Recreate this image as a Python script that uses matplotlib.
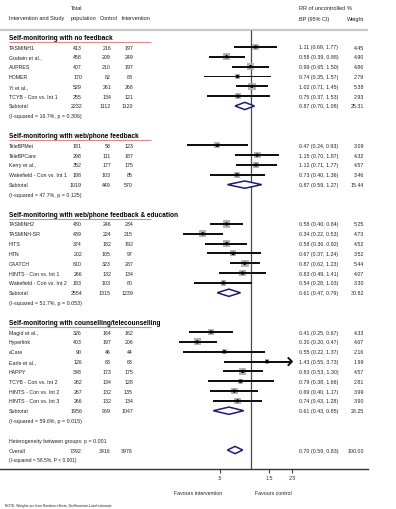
import numpy as np
import matplotlib
matplotlib.use('Agg')
import matplotlib.pyplot as plt
import matplotlib.transforms as mtrans
import matplotlib.ticker as mticker
from matplotlib.patches import Polygon
from matplotlib.path import Path

plt.rcParams['font.family'] = ['Liberation Sans', 'DejaVu Sans']

# ---------------- data ----------------
g1_title = "Self-monitoring with no feedback"
g1_names = ["TASMINH1", "Godwin et al.,", "AUPRES", "HOMER", "Yi et al.,", "TCYB - Con vs. Int 1"]
g1_total = [413, 458, 407, 170, 529, 255]
g1_ctrl = [216, 209, 210, 82, 261, 134]
g1_int = [197, 249, 197, 88, 268, 121]
g1_rr = [1.11, 0.58, 0.99, 0.74, 1.02, 0.75]
g1_lo = [0.69, 0.39, 0.65, 0.35, 0.71, 0.37]
g1_hi = [1.77, 0.88, 1.50, 1.57, 1.45, 1.53]
g1_w = [4.45, 4.90, 4.86, 2.79, 5.38, 2.93]
g1_sub = [2232, 1112, 1120, 0.87, 0.70, 1.08, 25.31]
g1_isq = "(I-squared = 16.7%, p = 0.306)"

g2_title = "Self-monitoring with web/phone feedback"
g2_names = ["TeleBPMet", "TeleBPCare", "Kerry et al.,", "Wakefield - Con vs. Int 1"]
g2_total = [181, 298, 352, 188]
g2_ctrl = [58, 111, 177, 103]
g2_int = [123, 187, 175, 85]
g2_rr = [0.47, 1.15, 1.12, 0.73]
g2_lo = [0.24, 0.70, 0.71, 0.40]
g2_hi = [0.93, 1.87, 1.77, 1.36]
g2_w = [3.09, 4.32, 4.57, 3.46]
g2_sub = [1019, 449, 570, 0.87, 0.59, 1.27, 15.44]
g2_isq = "(I-squared = 47.7%, p = 0.125)"

g3_title = "Self-monitoring with web/phone feedback & education"
g3_names = ["TASMINH2", "TASMINH-SR", "HITS", "HTN", "CAATCH", "HINTS - Con vs. Int 1",
            "Wakefield - Con vs. Int 2"]
g3_total = [480, 439, 374, 202, 610, 266, 183]
g3_ctrl = [246, 224, 182, 105, 323, 132, 103]
g3_int = [234, 215, 192, 97, 287, 134, 80]
g3_rr = [0.58, 0.34, 0.58, 0.67, 0.87, 0.83, 0.54]
g3_lo = [0.40, 0.22, 0.36, 0.37, 0.62, 0.49, 0.28]
g3_hi = [0.84, 0.53, 0.92, 1.24, 1.23, 1.41, 1.03]
g3_w = [5.25, 4.73, 4.52, 3.52, 5.44, 4.07, 3.30]
g3_sub = [2554, 1315, 1239, 0.61, 0.47, 0.79, 30.82]
g3_isq = "(I-squared = 51.7%, p = 0.053)"

g4_title = "Self-monitoring with counselling/telecounselling"
g4_names = ["Magid et al.,", "Hyperlink", "eCare", "Earle et al.,", "HAPPY",
            "TCYB - Con vs. Int 2", "HINTS - Con vs. Int 2", "HINTS - Con vs. Int 3"]
g4_total = [326, 403, 90, 126, 348, 262, 267, 266]
g4_ctrl = [164, 197, 46, 63, 173, 134, 132, 132]
g4_int = [162, 206, 44, 63, 175, 128, 135, 134]
g4_rr = [0.41, 0.30, 0.55, 1.43, 0.83, 0.79, 0.69, 0.74]
g4_lo = [0.25, 0.20, 0.22, 0.55, 0.53, 0.38, 0.40, 0.43]
g4_hi = [0.67, 0.47, 1.37, 3.73, 1.30, 1.66, 1.17, 1.28]
g4_w = [4.33, 4.67, 2.16, 1.99, 4.57, 2.81, 3.99, 3.90]
g4_sub = [1956, 969, 1047, 0.61, 0.43, 0.85, 28.25]
g4_isq = "(I-squared = 59.6%, p = 0.015)"

het_text = "Heterogeneity between groups: p = 0.001"
overall = [7392, 3416, 3976, 0.70, 0.59, 0.83, 100.00]
overall_isq = "(I-squared = 58.5%, P < 0.001)"

tick_vals = [0.5, 1.5, 2.5]
tick_labels = [".5", "1.5", "2.5"]

groups = [
    (g1_title, g1_names, g1_total, g1_ctrl, g1_int, g1_rr, g1_lo, g1_hi, g1_w, g1_sub, g1_isq),
    (g2_title, g2_names, g2_total, g2_ctrl, g2_int, g2_rr, g2_lo, g2_hi, g2_w, g2_sub, g2_isq),
    (g3_title, g3_names, g3_total, g3_ctrl, g3_int, g3_rr, g3_lo, g3_hi, g3_w, g3_sub, g3_isq),
    (g4_title, g4_names, g4_total, g4_ctrl, g4_int, g4_rr, g4_lo, g4_hi, g4_w, g4_sub, g4_isq),
]

# ---------------- layout ----------------
W, H = 396, 510
NULL_PX, PX_PER_LN = 251, 44.7
ROW0, ROWH = 48, 9.83
XCLIP = 2.5  # right edge of the CI drawing area

fig = plt.figure(figsize=(W / 100, H / 100), dpi=100)
ax = fig.add_axes([0, 0, 1, 1])
ax.set_xscale('log')
ax.set_xlim(np.exp(-NULL_PX / PX_PER_LN), np.exp((W - NULL_PX) / PX_PER_LN))
ax.set_ylim((H - ROW0) / ROWH, -ROW0 / ROWH)
ax.set_autoscale_on(False)
tr = mtrans.blended_transform_factory(ax.transAxes, ax.transData)

def r_of(p):
    return (p - ROW0) / ROWH

FS = 3.75
X_NAME, X_TOT, X_CTRL, X_INT, X_EST, X_W = 9, 82, 111, 133, 299, 364

def txt(xp, r, s, ha='left', size=FS, weight='normal', color='#222222'):
    ax.text(xp / W, r, s, transform=tr, ha=ha, va='center', fontsize=size,
            fontweight=weight, color=color)

# header
txt(71, -4, "Total", size=4.0)
txt(X_NAME, -3, "Intervention and Study", size=4.0)
txt(71, -3, "population", size=4.0)
txt(100, -3, "Control", size=4.0)
txt(121, -3, "Intervention", size=4.0)
txt(X_EST, -4, "RR of uncontrolled", size=4.0)
txt(X_EST, -2.9, "BP (95% CI)", size=4.0)
txt(347, -4, "%", size=4.0)
txt(347, -2.9, "Weight", size=4.0)

AX_END_PX = 368
ax.hlines(r_of(31), 0, AX_END_PX / W, transform=tr, color='#c8c8c8', lw=1.6, zorder=1)

DIAM_H = 0.37
SQ_COL = '#b3b3b3'
DIA_COL = '#1c1c78'
CI_H = 0.2  # CI bar thickness in row units
CHEVRON = Path([(-1.0, 1.0), (0.0, 0.0), (-1.0, -1.0)], [Path.MOVETO, Path.LINETO, Path.LINETO])

def diamond(est, lo_, hi_, row_):
    ax.add_patch(Polygon([(lo_, row_), (est, row_ - DIAM_H), (hi_, row_), (est, row_ + DIAM_H)],
                         closed=True, facecolor='white', edgecolor=DIA_COL, lw=1.1, zorder=4))

row = -1
for (title, names, tot, ctl, itv, rr, lo, hi, wt, sub, isq) in groups:
    txt(X_NAME, row, title, size=4.7, weight='bold', color='black')
    ax.hlines(row + 0.5, X_NAME / W, 151 / W, transform=tr, color='#dd8a8a', lw=0.8)
    row += 1
    for i in range(len(names)):
        txt(X_NAME, row, names[i])
        txt(X_TOT, row, str(tot[i]), ha='right')
        txt(X_CTRL, row, str(ctl[i]), ha='right')
        txt(X_INT, row, str(itv[i]), ha='right')
        txt(X_EST, row, f"{rr[i]:.2f} ({lo[i]:.2f}, {hi[i]:.2f})")
        txt(X_W, row, f"{wt[i]:.2f}", ha='right')
        ax.scatter([rr[i]], [row], marker='s', s=(2.3 * np.sqrt(wt[i])) ** 2,
                   color=SQ_COL, edgecolors='none', zorder=2)
        right = min(hi[i], XCLIP)
        ax.barh([row], [right - lo[i]], left=[lo[i]], height=CI_H, color='#111111',
                edgecolor='none', zorder=3)
        if hi[i] > XCLIP:
            ax.scatter([XCLIP], [row], marker=CHEVRON, s=36, facecolors='none',
                       edgecolors='#111111', linewidths=1.4, zorder=3)
        ax.scatter([rr[i]], [row], marker='o', s=2.4 ** 2, color='black', edgecolors='none', zorder=7)
        row += 1
    txt(X_NAME, row, "Subtotal")
    txt(X_TOT, row, str(sub[0]), ha='right')
    txt(X_CTRL, row, str(sub[1]), ha='right')
    txt(X_INT, row, str(sub[2]), ha='right')
    txt(X_EST, row, f"{sub[3]:.2f} ({sub[4]:.2f}, {sub[5]:.2f})")
    txt(X_W, row, f"{sub[6]:.2f}", ha='right')
    diamond(sub[3], sub[4], sub[5], row)
    row += 1
    txt(X_NAME, row, isq)
    row += 2

txt(X_NAME, row, het_text)
row += 1
txt(X_NAME, row, "Overall")
txt(X_TOT, row, str(overall[0]), ha='right')
txt(X_CTRL, row, str(overall[1]), ha='right')
txt(X_INT, row, str(overall[2]), ha='right')
txt(X_EST, row, f"{overall[3]:.2f} ({overall[4]:.2f}, {overall[5]:.2f})")
txt(X_W, row, f"{overall[6]:.2f}", ha='right')
diamond(overall[3], overall[4], overall[5], row)
row += 1
txt(X_NAME, row, overall_isq, size=3.5)

axis_r = r_of(470)
# null line
ax.vlines(1, r_of(31), axis_r, colors='#4a4a4a', lw=0.9, zorder=1)

# x axis
for s in ['top', 'left', 'right']:
    ax.spines[s].set_visible(False)
ax.spines['bottom'].set_position(('data', axis_r))
ax.spines['bottom'].set_bounds(ax.get_xlim()[0], np.exp((AX_END_PX - NULL_PX) / PX_PER_LN))
ax.spines['bottom'].set_color('#333333')
ax.spines['bottom'].set_linewidth(1.0)
ax.set_yticks([])
ax.set_xticks(tick_vals)
ax.set_xticklabels(tick_labels)
ax.xaxis.set_minor_locator(mticker.NullLocator())
ax.tick_params(axis='x', length=3, width=0.7, labelsize=FS, pad=1.5, colors='#333333')

txt(222, r_of(493), "Favours intervention", ha='right')
txt(255, r_of(493), "Favours control")
txt(5, r_of(506), "NOTE: Weights are from Random-effects; DerSimonian-Laird estimator", size=2.4)

fig.savefig('out.png', dpi=100)
